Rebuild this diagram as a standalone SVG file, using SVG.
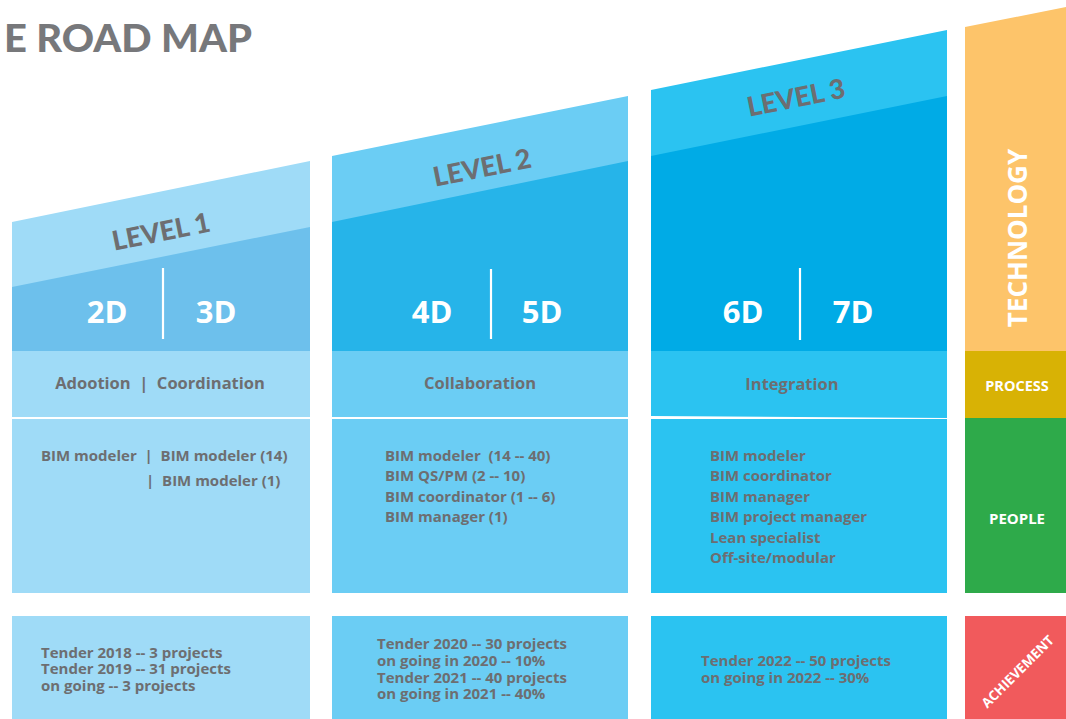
<svg xmlns="http://www.w3.org/2000/svg" width="1066" height="719" viewBox="0 0 1066 719">
<style>
.t{font-family:"Open Sans",Lato,"Liberation Sans",sans-serif;font-weight:bold;fill:#6D6E71}
.lvl{font-family:Lato,"Open Sans",sans-serif;font-weight:900;font-size:27px;text-anchor:middle}
.dim{font-family:"Open Sans",Lato,"Liberation Sans",sans-serif;font-weight:bold;fill:#fff;font-size:31px;text-anchor:middle}
.proc{font-size:16.5px;text-anchor:middle}
.body{font-size:15px}
.side{font-family:"Open Sans",Lato,"Liberation Sans",sans-serif;font-weight:bold;fill:#fff;text-anchor:middle}
.div{stroke:#fff;stroke-width:2.2}
</style>
<rect width="1066" height="719" fill="#fff"/>
<g id="title">
<text x="4" y="52" style="font-family:Lato,'Open Sans',sans-serif;font-size:37px;fill:#77787B;font-weight:900" textLength="248" lengthAdjust="spacingAndGlyphs">E ROAD MAP</text>
</g>
<g id="level1">
<polygon points="12,222 310,161 310,351 12,351" fill="#9FDBF7"/>
<polygon points="12,287 310,227 310,351 12,351" fill="#6DC0EC"/>
<text class="t lvl" transform="translate(163,241) rotate(-11.4)">LEVEL 1</text>
<text class="dim" x="107" y="323">2D</text>
<text class="dim" x="216" y="323">3D</text>
<line class="div" x1="163" y1="268" x2="163" y2="339"/>
<rect x="12" y="351" width="298" height="66" fill="#9FDBF7"/>
<text class="t proc" x="160" y="389" xml:space="preserve">Adootion  |  Coordination</text>
</g>
<g id="level2">
<polygon points="332,156 628,96 628,351 332,351" fill="#6BCDF4"/>
<polygon points="332,222 628,161 628,351 332,351" fill="#26B4E9"/>
<text class="t lvl" transform="translate(484,177) rotate(-11.4)">LEVEL 2</text>
<text class="dim" x="432" y="323">4D</text>
<text class="dim" x="542" y="323">5D</text>
<line class="div" x1="491" y1="269" x2="491" y2="339"/>
<rect x="332" y="351" width="296" height="66" fill="#6BCDF4"/>
<text class="t proc" x="480" y="389">Collaboration</text>
</g>
<g id="level3">
<polygon points="651,90 947,30 947,351 651,351" fill="#2BC3F1"/>
<polygon points="651,156 947,96 947,351 651,351" fill="#00ABE6"/>
<text class="t lvl" transform="translate(798,107) rotate(-11.4)">LEVEL 3</text>
<text class="dim" x="743" y="323">6D</text>
<text class="dim" x="853" y="323">7D</text>
<line class="div" x1="800" y1="268" x2="800" y2="340"/>
<polygon points="651,351 947,351 947,418 651,416" fill="#2BC3F1"/>
<text class="t proc" x="792" y="390">Integration</text>
</g>
<g id="people1">
<rect x="12" y="419" width="298" height="174" fill="#9FDBF7"/>
<text class="t body" x="41" y="461" xml:space="preserve">BIM modeler  |  BIM modeler (14)</text>
<text class="t body" x="146" y="486" xml:space="preserve">|  BIM modeler (1)</text>
</g>
<g id="people2">
<rect x="332" y="419" width="296" height="174" fill="#6BCDF4"/>
<text class="t body" x="385" y="461" xml:space="preserve">BIM modeler  (14 -- 40)</text>
<text class="t body" x="385" y="481">BIM QS/PM (2 -- 10)</text>
<text class="t body" x="385" y="502">BIM coordinator (1 -- 6)</text>
<text class="t body" x="385" y="522">BIM manager (1)</text>
</g>
<g id="people3">
<rect x="651" y="419" width="296" height="174" fill="#2BC3F1"/>
<text class="t body" x="710" y="461">BIM modeler</text>
<text class="t body" x="710" y="481">BIM coordinator</text>
<text class="t body" x="710" y="502">BIM manager</text>
<text class="t body" x="710" y="522">BIM project manager</text>
<text class="t body" x="710" y="543">Lean specialist</text>
<text class="t body" x="710" y="563">Off-site/modular</text>
</g>
<g id="achievement1">
<rect x="12" y="616" width="298" height="103" fill="#9FDBF7"/>
<text class="t body" x="41" y="658">Tender 2018 -- 3 projects</text>
<text class="t body" x="41" y="674">Tender 2019 -- 31 projects</text>
<text class="t body" x="41" y="691">on going -- 3 projects</text>
</g>
<g id="achievement2">
<rect x="332" y="616" width="296" height="103" fill="#6BCDF4"/>
<text class="t body" x="377" y="649">Tender 2020 -- 30 projects</text>
<text class="t body" x="377" y="666">on going in 2020 -- 10%</text>
<text class="t body" x="377" y="683">Tender 2021 -- 40 projects</text>
<text class="t body" x="377" y="699">on going in 2021 -- 40%</text>
</g>
<g id="achievement3">
<rect x="651" y="616" width="296" height="103" fill="#2BC3F1"/>
<text class="t body" x="701" y="666">Tender 2022 -- 50 projects</text>
<text class="t body" x="701" y="683">on going in 2022 -- 30%</text>
</g>
<g id="technology">
<polygon points="965,27 1066,7 1066,351 965,351" fill="#FDC46A"/>
<text class="side" transform="translate(1027,238) rotate(-90)" style="font-size:26px">TECHNOLOGY</text>
</g>
<g id="process">
<rect x="965" y="351" width="101" height="67" fill="#D8B205"/>
<text class="side" x="1017" y="391" style="font-size:14.5px">PROCESS</text>
</g>
<g id="people">
<rect x="965" y="418" width="101" height="175" fill="#2EAA4A"/>
<text class="side" x="1017" y="524" style="font-size:15px">PEOPLE</text>
</g>
<g id="achievement">
<rect x="965" y="616" width="101" height="103" fill="#F15A5C"/>
<text class="side" transform="translate(1021,675) rotate(-45)" style="font-size:13.5px">ACHIEVEMENT</text>
</g>
<g id="connectors"/>
</svg>
